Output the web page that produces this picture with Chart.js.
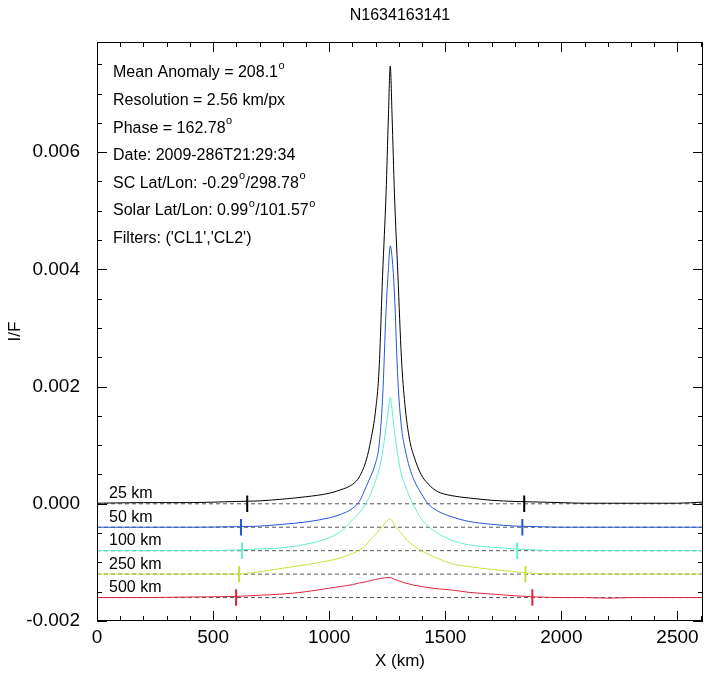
<!DOCTYPE html>
<html>
<head>
<meta charset="utf-8">
<script src="https://cdn.jsdelivr.net/npm/chart.js@4.4.1/dist/chart.umd.min.js"></script>
<style>
  body { margin: 0; background: #fff; }
  canvas { display: block; }
</style>
</head>
<body>
<canvas id="profileChart" width="707" height="673"></canvas>
<script>
// ===== DATA =====
const kmX = [0, 200, 400, 600, 700, 800, 900, 1000, 1050, 1100, 1130, 1160, 1180, 1200, 1215, 1230, 1245, 1255, 1263,
  1271, 1281, 1296, 1311, 1326, 1346, 1366, 1396, 1426, 1466, 1526, 1600, 1700, 1800, 1900, 2000, 2100, 2200, 2300, 2400, 2500, 2610];

const series25 = [0.00001, 0.00002, 0.00002, 0.00004, 0.00005, 0.00008, 0.00012, 0.00018, 0.00024, 0.00033, 0.00046, 0.00075, 0.0011, 0.0016, 0.0023, 0.0039, 0.0053, 0.0066, 0.00747,
  0.0066, 0.0053, 0.0039, 0.0025, 0.0017, 0.0011, 0.0008, 0.0005, 0.00034, 0.00021, 0.00014, 0.0001, 0.00006, 0.00004, 0.00003, 0.00002, 0.00001, 0.00001, 0.00001, 0.00001, 0.00001, 0.00003];

const series50 = [-0.0004, -0.0004, -0.0004, -0.00039, -0.00038, -0.00035, -0.00031, -0.00024, -0.00018, -0.00008, 0.00004, 0.0003, 0.00048, 0.0007, 0.001, 0.0018, 0.0033, 0.004, 0.0044,
  0.0042, 0.0036, 0.0021, 0.00132, 0.00095, 0.00062, 0.0004, 0.00018, 0.0, -0.00012, -0.00022, -0.0003, -0.00035, -0.00038, -0.00039, -0.0004, -0.0004, -0.0004, -0.0004, -0.0004, -0.0004, -0.0004];

const series100 = [-0.0008, -0.0008, -0.0008, -0.00079, -0.00077, -0.00075, -0.00069, -0.00058, -0.00047, -0.00028, -0.00015, 0.00002, 0.00018, 0.0004, 0.00058, 0.00088, 0.0013, 0.0016, 0.00182,
  0.0016, 0.00125, 0.00082, 0.0005, 0.00033, 0.00012, -0.00004, -0.00025, -0.00038, -0.0005, -0.00062, -0.0007, -0.00074, -0.00077, -0.00079, -0.0008, -0.0008, -0.0008, -0.0008, -0.0008, -0.0008, -0.0008];

const series250 = [-0.0012, -0.0012, -0.0012, -0.0012, -0.00116, -0.0011, -0.00104, -0.00097, -0.00092, -0.00085, -0.00079, -0.0007, -0.0006, -0.00052, -0.00045, -0.00038, -0.00031, -0.00027, -0.00026,
  -0.00029, -0.00036, -0.00044, -0.0005, -0.00058, -0.00066, -0.00072, -0.0008, -0.00086, -0.00093, -0.00102, -0.00107, -0.00112, -0.00116, -0.00119, -0.0012, -0.0012, -0.0012, -0.0012, -0.0012, -0.0012, -0.0012];

const series500 = [-0.0016, -0.0016, -0.00159, -0.00158, -0.00156, -0.00154, -0.0015, -0.00144, -0.00141, -0.00138, -0.00135, -0.00133, -0.00131, -0.00129, -0.00128, -0.00127, -0.00126, -0.00126, -0.00126,
  -0.00127, -0.00129, -0.00131, -0.00133, -0.00135, -0.00137, -0.00139, -0.00141, -0.00143, -0.00145, -0.00147, -0.00151, -0.00154, -0.00157, -0.00159, -0.0016, -0.0016, -0.00161, -0.0016, -0.0016, -0.0016, -0.0016];

const seriesLabels = ["25 km", "50 km", "100 km", "250 km", "500 km"];
const baselines = [0, -0.0004, -0.0008, -0.0012, -0.0016];
const markerLeft = [647, 620, 625, 612, 599];
const markerRight = [1840, 1832, 1810, 1845, 1875];

const xTicks = [0, 500, 1000, 1500, 2000, 2500];
const yTicks = [-0.002, 0, 0.002, 0.004, 0.006];

// "^o" = superscript degree sign
const infoLines = [
  "Mean Anomaly = 208.1^o",
  "Resolution = 2.56 km/px",
  "Phase = 162.78^o",
  "Date: 2009-286T21:29:34",
  "SC Lat/Lon: -0.29^o/298.78^o",
  "Solar Lat/Lon: 0.99^o/101.57^o",
  "Filters: ('CL1','CL2')"
];

const chartTitle = "N1634163141";
const colors = ["#000000", "#2457d6", "#5ff0d0", "#c2e43c", "#e2243c"];
const FONT = "'Liberation Sans', Arial, Helvetica, sans-serif";

// ===== DATASETS =====
const allSeries = [series25, series50, series100, series250, series500];
const markH = 0.00014;
const datasets = [];

allSeries.forEach((vals, i) => {
  datasets.push({
    data: kmX.map((x, j) => ({ x: x, y: vals[j] })),
    borderColor: colors[i],
    borderWidth: 1,
    pointRadius: 0,
    cubicInterpolationMode: "monotone",
    order: 1
  });
  const b = baselines[i];
  datasets.push({
    data: [
      { x: markerLeft[i], y: b - markH }, { x: markerLeft[i], y: b + markH },
      { x: markerLeft[i], y: null },
      { x: markerRight[i], y: b - markH }, { x: markerRight[i], y: b + markH }
    ],
    borderColor: colors[i],
    borderWidth: 2,
    pointRadius: 0,
    spanGaps: false,
    order: 0
  });
  datasets.push({
    data: [{ x: 0, y: b }, { x: 2610, y: b }],
    borderColor: "#555555",
    borderWidth: 1,
    borderDash: [4, 3],
    pointRadius: 0,
    order: 5
  });
});

// ===== FRAME, TICKS, TEXT =====
const decorPlugin = {
  id: "decor",
  afterDraw(chart) {
    const ctx = chart.ctx;
    const a = chart.chartArea;
    const xs = chart.scales.x, ys = chart.scales.y;
    ctx.save();
    ctx.strokeStyle = "#000";
    ctx.lineWidth = 1;
    ctx.strokeRect(a.left + 0.5, a.top + 0.5, a.right - a.left - 1, a.bottom - a.top - 1);

    ctx.beginPath();
    for (let v = 0; v <= xs.max; v += 100) {
      const px = Math.round(xs.getPixelForValue(v)) + 0.5;
      const len = v % 500 === 0 ? 10 : 5;
      ctx.moveTo(px, a.bottom); ctx.lineTo(px, a.bottom - len);
      ctx.moveTo(px, a.top); ctx.lineTo(px, a.top + len);
    }
    for (let k = -4; k * 0.0005 <= ys.max; k++) {
      const v = k * 0.0005;
      const py = Math.round(ys.getPixelForValue(v)) + 0.5;
      const len = k % 4 === 0 ? 10 : 5;
      ctx.moveTo(a.left, py); ctx.lineTo(a.left + len, py);
      ctx.moveTo(a.right, py); ctx.lineTo(a.right - len, py);
    }
    ctx.stroke();

    ctx.fillStyle = "#000";
    // title
    ctx.font = "16px " + FONT;
    ctx.textAlign = "center";
    ctx.textBaseline = "middle";
    ctx.fillText(chartTitle, (a.left + a.right) / 2, 16);
    // axis titles
    ctx.font = "17px " + FONT;
    ctx.fillText("X (km)", (a.left + a.right) / 2, 661);
    ctx.save();
    ctx.translate(15, (a.top + a.bottom) / 2);
    ctx.rotate(-Math.PI / 2);
    ctx.fillText("I/F", 0, 0);
    ctx.restore();

    // series labels
    ctx.font = "16px " + FONT;
    ctx.textAlign = "left";
    seriesLabels.forEach((lab, i) => {
      ctx.fillText(lab, a.left + 12, ys.getPixelForValue(baselines[i]) - 10);
    });

    // info block
    infoLines.forEach((line, i) => {
      let x = a.left + 16;
      const y = 73 + i * 27.6;
      const parts = line.split("^o");
      parts.forEach((p, j) => {
        ctx.font = "16px " + FONT;
        ctx.fillText(p, x, y);
        x += ctx.measureText(p).width;
        if (j < parts.length - 1) {
          ctx.font = "11px " + FONT;
          ctx.fillText("o", x + 0.5, y - 7);
          x += ctx.measureText("o").width + 1;
        }
      });
    });
    ctx.restore();
  }
};

new Chart(document.getElementById("profileChart"), {
  type: "line",
  data: { datasets: datasets },
  options: {
    responsive: false,
    animation: false,
    layout: { padding: { top: 42, right: 4, left: 0, bottom: 0 } },
    plugins: { legend: { display: false }, tooltip: { enabled: false } },
    scales: {
      x: {
        type: "linear",
        min: 0,
        max: 2610,
        afterBuildTicks: s => { s.ticks = xTicks.map(v => ({ value: v })); },
        afterFit: s => { s.height = 52; },
        grid: { display: false },
        border: { display: false },
        ticks: { color: "#000", font: { family: FONT, size: 19 }, padding: -3, maxRotation: 0, callback: v => String(v) }
      },
      y: {
        type: "linear",
        min: -0.002,
        max: 0.00788,
        afterBuildTicks: s => { s.ticks = yTicks.map(v => ({ value: v })); },
        afterFit: s => { s.width = 97; },
        grid: { display: false },
        border: { display: false },
        ticks: { color: "#000", font: { family: FONT, size: 19 }, padding: 9, callback: v => v.toFixed(3) }
      }
    }
  },
  plugins: [decorPlugin]
});
</script>
</body>
</html>
